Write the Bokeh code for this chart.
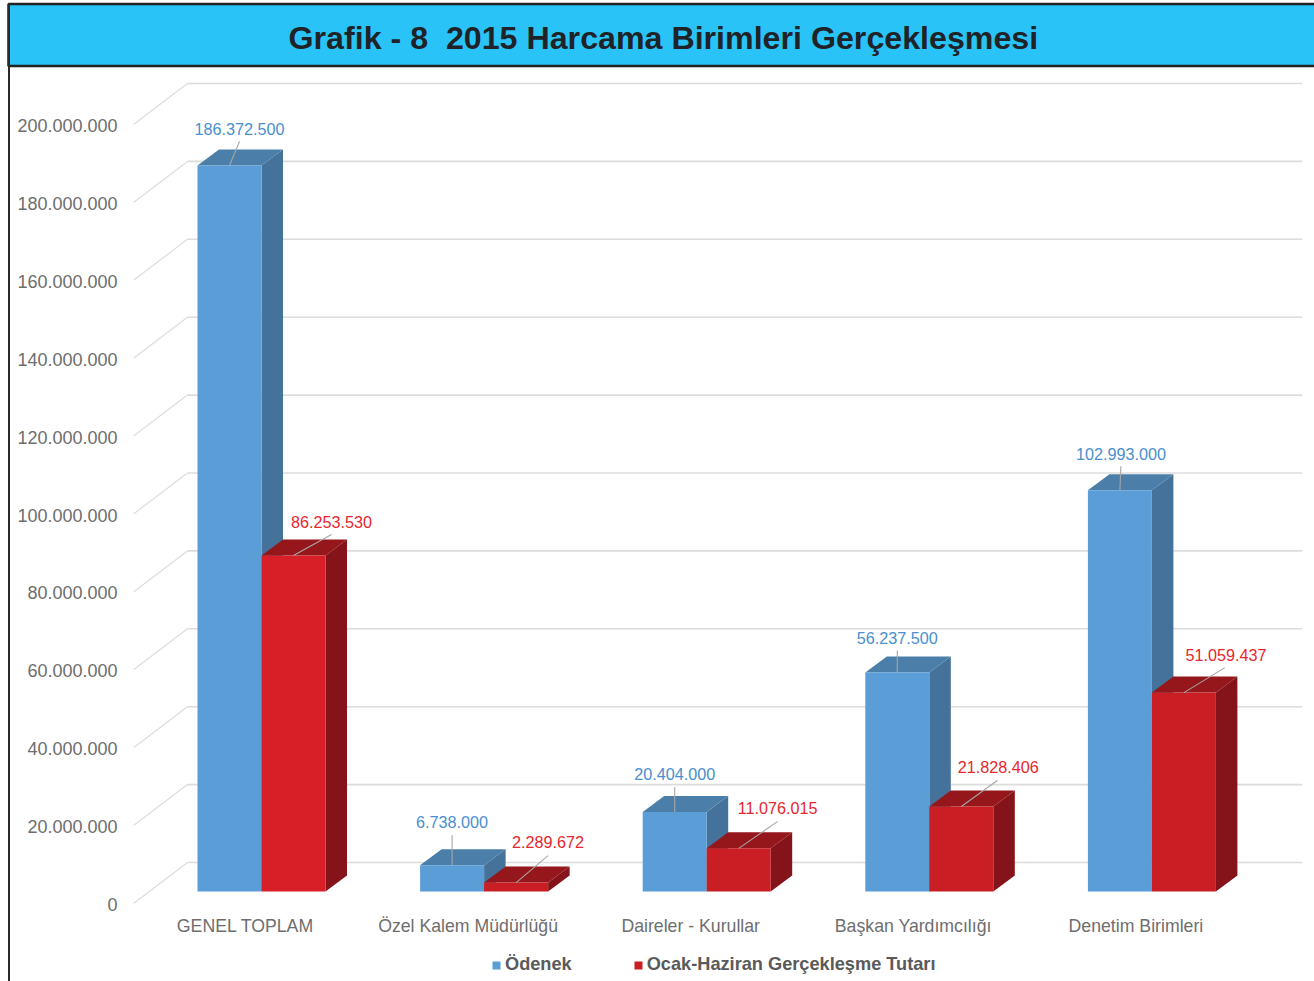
from bokeh.embed import file_html
from bokeh.resources import INLINE
from bokeh.plotting import figure
from bokeh.models import (ColumnDataSource, FixedTicker, InlineStyleSheet, Legend, LegendItem,
                          LinearAxis, Range1d, Title)
from bokeh.core.properties import value

# ---- data ----
categories = ["GENEL TOPLAM", "Özel Kalem Müdürlüğü", "Daireler - Kurullar", "Başkan Yardımcılığı", "Denetim Birimleri"]
odenek = [186372500, 6738000, 20404000, 56237500, 102993000]
gerceklesme = [86253530, 2289672, 11076015, 21828406, 51059437]
odenek_labels = ["186.372.500", "6.738.000", "20.404.000", "56.237.500", "102.993.000"]
gerceklesme_labels = ["86.253.530", "2.289.672", "11.076.015", "21.828.406", "51.059.437"]
y_ticks = [0, 20000000, 40000000, 60000000, 80000000, 100000000, 120000000, 140000000, 160000000, 180000000, 200000000]
y_tick_labels = ["0", "20.000.000", "40.000.000", "60.000.000", "80.000.000", "100.000.000", "120.000.000",
                 "140.000.000", "160.000.000", "180.000.000", "200.000.000"]
series_names = ["Ödenek", "Ocak-Haziran Gerçekleşme Tutarı"]
title_text = "Grafik - 8\u00a0\u00a02015 Harcama Birimleri Gerçekleşmesi"

# ---- layout (pixels) ----
FRAME_L, FRAME_R, FRAME_T, FRAME_B = 133, 1302, 67, 976
PX_PER_CAT = 222.6
PX_PER_UNIT = 3.895e-6
CAT0_PX = 245
ZERO_PX = 891            # baseline of bar fronts
FLOOR_PX = 903           # front end of the wall diagonals
AXIS_ZERO_PX = 904       # zero of the axis labels
BAR_W = 64
DEPTH_X, DEPTH_Y = 21.5, 16
WALL_X = 54
BAR_SHIFT = 16

def dx(px): return px / PX_PER_CAT
def dy(px): return px / PX_PER_UNIT

x_range = Range1d((FRAME_L - CAT0_PX) / PX_PER_CAT, (FRAME_R - CAT0_PX) / PX_PER_CAT)
y_range = Range1d(dy(ZERO_PX - FRAME_B), dy(ZERO_PX - FRAME_T))

sheet = InlineStyleSheet(css=":host::after { content: ''; position: absolute; left: 8px; top: 3px; bottom: 0; "
                             "width: 2px; background: #2a2a2a; z-index: 5; }")
p = figure(frame_width=FRAME_R - FRAME_L, frame_height=FRAME_B - FRAME_T,
           x_range=x_range, y_range=y_range, output_backend="svg", toolbar_location=None,
           x_axis_location=None, y_axis_location=None,
           min_border_left=FRAME_L, min_border_right=1314 - FRAME_R, min_border_top=FRAME_T,
           min_border_bottom=981 - FRAME_B,
           background_fill_color="white", border_fill_color="white", outline_line_color=None,
           stylesheets=[sheet])
p.grid.visible = False

# header: a padded title makes the cyan band with its dark rules
p.add_layout(Title(text=title_text, text_font="Liberation Sans", text_font_size="32.2px", text_font_style="bold",
                   text_color="#1f2328", align="left", offset=8 - FRAME_L, standoff=3,
                   background_fill_color="#29C3F7", border_line_color="#222222", border_line_width=2.5,
                   padding=(280, 400, 16, 10)), "above")

# walls
wall_x0 = [x_range.start + dx(WALL_X)] * len(y_ticks)
wall_x1 = [x_range.end] * len(y_ticks)
wall_y = [v + dy(ZERO_PX - 862) for v in y_ticks]
p.segment(wall_x0, wall_y, wall_x1, wall_y, line_color="#dcdcdc", line_width=1.6)
p.segment([x_range.start] * len(y_ticks), [v - dy(FLOOR_PX - ZERO_PX) for v in y_ticks], wall_x0, wall_y,
          line_color="#dcdcdc", line_width=1.2)

# bars
def draw_series(values, centres, front, top, side):
    half = dx(BAR_W / 2)
    ox, oy = dx(DEPTH_X), dy(DEPTH_Y)
    p.patches([[c + half, c + half + ox, c + half + ox, c + half] for c in centres],
              [[0, oy, v + oy, v] for v in values], fill_color=side, line_color=None)
    p.patches([[c - half, c + half, c + half + ox, c - half + ox] for c in centres],
              [[v, v, v + oy, v + oy] for v in values], fill_color=top, line_color=None)
    src = ColumnDataSource(dict(x=centres, top=values, color=front))
    return p.vbar(x="x", top="top", bottom=0, width=BAR_W / PX_PER_CAT, source=src,
                  fill_color="color", line_color=None)

idx = list(range(len(categories)))
blue_c = [i + dx(BAR_SHIFT - BAR_W / 2) for i in idx]
red_c = [i + dx(BAR_SHIFT + BAR_W / 2) for i in idx]
r_blue = draw_series(odenek, blue_c, ["#5B9DD7"] * 5, "#4B7FA9", "#44729A")
r_red = draw_series(gerceklesme, red_c, ["#D81E26", "#C81E24", "#C81E24", "#C81E24", "#C81E24"],
                    "#95171B", "#84131A")

# data labels with leader lines: offsets from the top-centre of each bar's front
blue_offset = [(10, 37), (0, 43), (0, 38), (0, 34), (1, 36)]
red_offset = [(38, 34), (32, 41), (39, 40), (37, 39), (42, 38)]
blue_leader = [(10, 24), (0, 30), (0, 25), (0, 22), (1, 24)]
red_leader = [(38, 21), (32, 27), (39, 27), (36, 26), (41, 25)]

def draw_labels(values, centres, labels, offset, leader, color):
    p.segment(centres, values, [c + dx(l[0]) for c, l in zip(centres, leader)],
              [v + dy(l[1]) for v, l in zip(values, leader)], line_color="#a6a6a6", line_width=1.1)
    p.text(centres, values, text=labels, x_offset=[o[0] for o in offset], y_offset=[-o[1] for o in offset],
           text_align="center", text_baseline="middle", text_color=color,
           text_font=value("Liberation Sans"), text_font_size="16.2px")

draw_labels(odenek, blue_c, odenek_labels, blue_offset, blue_leader, "#4A8FCE")
draw_labels(gerceklesme, red_c, gerceklesme_labels, red_offset, red_leader, "#E8262D")

# axes
p.extra_y_ranges = {"labels": Range1d(dy(AXIS_ZERO_PX - FRAME_B), dy(AXIS_ZERO_PX - FRAME_T))}
yaxis = LinearAxis(y_range_name="labels", ticker=FixedTicker(ticks=y_ticks),
                   major_label_overrides=dict(zip(y_ticks, y_tick_labels)),
                   axis_line_color=None, major_tick_line_color=None, minor_tick_line_color=None,
                   major_label_standoff=10, major_label_text_font="Liberation Sans",
                   major_label_text_font_size="18px", major_label_text_color="#6E6E6E")
p.add_layout(yaxis, "left")
xaxis = LinearAxis(ticker=FixedTicker(ticks=idx), major_label_overrides=dict(zip(idx, categories)),
                   axis_line_color=None, major_tick_line_color=None, minor_tick_line_color=None,
                   major_label_standoff=926 - FRAME_B - 17, major_label_text_font="Liberation Sans",
                   major_label_text_font_size="17.7px", major_label_text_color="#6E6E6E")
p.add_layout(xaxis, "below")

legend = Legend(items=[LegendItem(label=series_names[0], renderers=[r_blue], index=0),
                       LegendItem(label=series_names[1], renderers=[r_red], index=1)],
                orientation="horizontal", location=(491 - FRAME_L, 1), spacing=61, padding=0, margin=0,
                glyph_width=10, glyph_height=10, label_standoff=4, border_line_color=None,
                background_fill_alpha=0, label_text_font="Liberation Sans", label_text_font_size="18.2px",
                label_text_font_style="bold", label_text_color="#5A5A5A", label_height=20)
p.add_layout(legend, "center")

open("out.html", "w").write(file_html(p, INLINE))
